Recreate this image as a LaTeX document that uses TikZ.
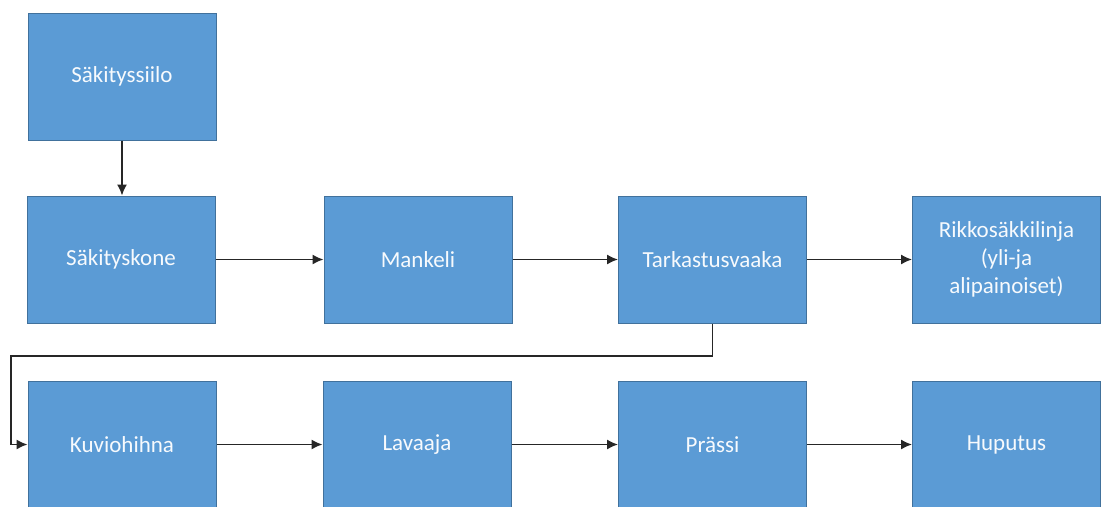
\documentclass[tikz,border=0pt]{standalone}
\usepackage{fontspec}
\setmainfont{Carlito}
\usetikzlibrary{arrows.meta,positioning}
\definecolor{boxfill}{HTML}{5B9BD5}
\definecolor{boxline}{HTML}{41719C}
\definecolor{arrowcol}{HTML}{262626}
\tikzset{stage/.style={rectangle, draw=boxline, line width=1pt, fill=boxfill, text=white!95!boxfill, minimum width=188pt, minimum height=127pt, align=center, font=\fontsize{23}{28}\selectfont, inner sep=0pt}}
\tikzset{flow/.style={draw=arrowcol, line width=1.5pt, -{Latex[length=11pt,width=10pt]}}}
\begin{document}
\begin{tikzpicture}[x=1pt,y=-1pt]
    \useasboundingbox (0,0) rectangle (1103,506);
    \fill[white] (0,0) rectangle (1103,506);

    \node[stage] (siilo) at (122, 76.5) {Säkityssiilo};

    \node[stage] (kone) at (121, 259.5) {Säkityskone};
    \node[stage] (mankeli) at (418, 259.5) {Mankeli};
    \node[stage] (vaaka) at (712.5, 259.5) {Tarkastusvaaka};
    \node[stage] (rikko) at (1006.5, 259.5) {Rikkosäkkilinja\\(yli-ja\\alipainoiset)};

    \node[stage] (kuvio) at (122, 444.5) {Kuviohihna};
    \node[stage] (lavaaja) at (417, 444.5) {Lavaaja};
    \node[stage] (prassi) at (712.5, 444.5) {Prässi};
    \node[stage] (huputus) at (1006.5, 444.5) {Huputus};

    \coordinate (bend) at (11, 356);

    \draw[flow] (siilo) -- (kone.north -| siilo);
    \draw[flow] (kone) -- (mankeli);
    \draw[flow] (mankeli) -- (vaaka);
    \draw[flow] (vaaka) -- (rikko);
    \draw[flow] (vaaka.south) |- (bend) |- (kuvio.west);
    \draw[flow] (kuvio) -- (lavaaja);
    \draw[flow] (lavaaja) -- (prassi);
    \draw[flow] (prassi) -- (huputus);
\end{tikzpicture}
\end{document}
